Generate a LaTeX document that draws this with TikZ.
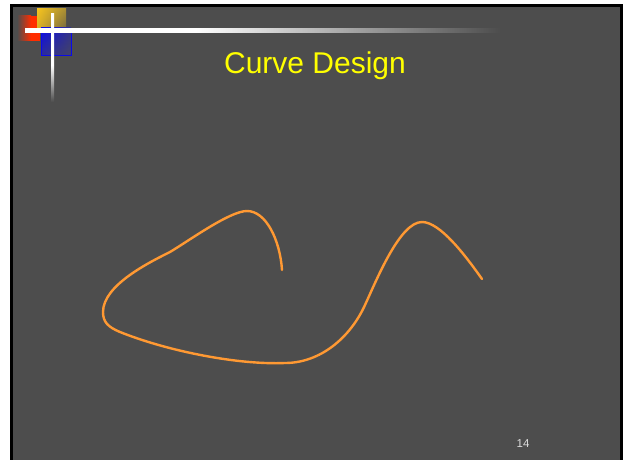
\documentclass[tikz,border=0pt]{standalone}
\usepackage{fontspec}
\setmainfont{Liberation Sans}
\usepackage{xcolor}
\usetikzlibrary{positioning, shadings}
\definecolor{slidegray}{RGB}{77,77,77}
\definecolor{curveorange}{RGB}{255,153,51}
\definecolor{titleyellow}{RGB}{255,255,0}
\definecolor{logored}{RGB}{255,45,0}
\definecolor{logogold}{RGB}{245,195,30}
\definecolor{logoblue}{RGB}{10,10,235}
\definecolor{numgray}{RGB}{220,220,220}
\pgfdeclarehorizontalshading{hbarfade}{100bp}{color(0bp)=(white); color(25bp)=(white);
    color(43bp)=(white); color(75bp)=(slidegray); color(100bp)=(slidegray)}
\pgfdeclareverticalshading{vbarfade}{100bp}{color(0bp)=(slidegray); color(25bp)=(slidegray);
    color(46bp)=(white); color(75bp)=(white); color(100bp)=(white)}

\begin{document}
\begin{tikzpicture}[x=1pt, y=-1pt]
    \useasboundingbox (0,0) rectangle (626,460);
    % slide frame
    \fill[black] (10,4) rectangle (623,463);
    \fill[slidegray] (13,7) rectangle (619.5,462);

    % logo squares
    \shade[left color=slidegray, right color=logored] (17,16) rectangle (31,41);
    \fill[logored] (31,16) rectangle (40,41);
    \shade[upper left=logogold, upper right=logogold!55!slidegray,
           lower left=logogold!85!slidegray, lower right=logogold!25!slidegray] (37,9) rectangle (66,28);
    \shade[upper left=logoblue, upper right=logoblue!40!slidegray,
           lower left=logoblue!50!slidegray, lower right=logoblue!15!slidegray] (41,28) rectangle (71,55);
    \draw[logoblue, line width=0.6pt] (41,28) rectangle (71,55);

    % white bars
    \shade[shading=hbarfade] (25,29) rectangle (500,33);
    \shade[shading=vbarfade] (51,14) rectangle (54,102);

    \node[text=titleyellow, font=\fontsize{30}{36}\selectfont, anchor=base] (title) at (315,74) {Curve Design};
    \node[text=numgray, font=\fontsize{11.5}{14}\selectfont, anchor=base] (pagenum) at (523,447) {14};

    % freehand curve
    \draw[curveorange, line width=2.4pt, line cap=round, line join=round]
        (282,270) .. controls (280,240) and (266,211) .. (247,211)
        .. controls (230,211) and (190,240) .. (170,252)
        .. controls (150,262) and (103,285) .. (103,312)
        .. controls (103,322) and (108,327) .. (120,332)
        .. controls (170,352) and (240,365) .. (285,363)
        .. controls (320,363) and (350,338) .. (365,305)
        .. controls (377,279) and (400,222) .. (422,222)
        .. controls (440,222) and (465,255) .. (482,279);
\end{tikzpicture}
\end{document}
